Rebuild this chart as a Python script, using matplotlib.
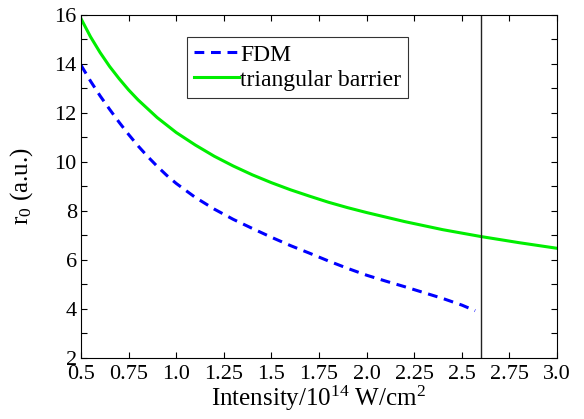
import matplotlib
matplotlib.use("Agg")
import matplotlib.pyplot as plt
from matplotlib.ticker import MultipleLocator

# values
intensity_tri = [0.5, 0.55, 0.6, 0.65, 0.7, 0.75, 0.8, 0.9, 1.0, 1.1, 1.2, 1.3, 1.4, 1.5,
                 1.6, 1.7, 1.8, 1.9, 2.0, 2.2, 2.4, 2.6, 2.8, 3.0]
r0_tri = [15.85, 15.11, 14.47, 13.9, 13.4, 12.94, 12.53, 11.81, 11.2, 10.69, 10.23, 9.83,
          9.47, 9.15, 8.86, 8.6, 8.35, 8.13, 7.93, 7.56, 7.23, 6.95, 6.7, 6.47]

intensity_fdm = [0.5, 0.55, 0.6, 0.65, 0.7, 0.75, 0.8, 0.85, 0.9, 0.95, 1.0, 1.1, 1.2, 1.3,
                 1.4, 1.5, 1.6, 1.7, 1.8, 1.9, 2.0, 2.1, 2.2, 2.3, 2.4, 2.5, 2.57]
r0_fdm = [13.95, 13.3, 12.7, 12.15, 11.62, 11.12, 10.65, 10.22, 9.82, 9.45, 9.12, 8.55,
          8.07, 7.65, 7.28, 6.92, 6.58, 6.27, 5.95, 5.65, 5.37, 5.13, 4.9, 4.66, 4.42,
          4.15, 3.92]

x_marker = 2.6
x_ticks = [0.5, 0.75, 1.0, 1.25, 1.5, 1.75, 2.0, 2.25, 2.5, 2.75, 3.0]
x_ticklabels = ["0.5", "0.75", "1.0", "1.25", "1.5", "1.75", "2.0", "2.25", "2.5", "2.75", "3.0"]

plt.rcParams["font.family"] = ["Liberation Serif", "DejaVu Serif"]
plt.rcParams["mathtext.fontset"] = "custom"
plt.rcParams["mathtext.rm"] = "Liberation Serif"
plt.rcParams["mathtext.it"] = "Liberation Serif:italic"

fig = plt.figure(figsize=(5.84, 4.19), dpi=100)
ax = fig.add_axes([0.1387, 0.1463, 0.8151, 0.8179])

ax.plot(intensity_fdm, r0_fdm, color="#0000ff", linestyle=(0, (3.2, 2.2)), linewidth=2.2, label="FDM")
ax.plot(intensity_tri, r0_tri, color="#00ee00", linewidth=2.2, label="triangular barrier")
ax.axvline(x_marker, color="#222222", linewidth=1.0)

ax.set_xlim(0.5, 3.0)
ax.set_ylim(2, 16)
ax.set_xticks(x_ticks)
ax.set_xticklabels(x_ticklabels)
ax.yaxis.set_major_locator(MultipleLocator(2))
ax.yaxis.set_minor_locator(MultipleLocator(1))
ax.tick_params(which="both", direction="in", top=True, right=True, labelsize=16)
ax.tick_params(which="major", length=4, width=0.8)
ax.tick_params(which="minor", length=4, width=0.8)
ax.tick_params(axis="x", pad=5)
ax.tick_params(axis="y", pad=3)

ax.set_xlabel(r"Intensity/10$^{14}$ W/cm$^{2}$", fontsize=18, labelpad=0)
ax.set_ylabel(r"r$_0$ (a.u.)", fontsize=18, labelpad=14)

leg = ax.legend(loc="upper left", bbox_to_anchor=(0.2227, 0.9358), fontsize=17,
                frameon=True, fancybox=False, edgecolor="black",
                handlelength=1.9, handletextpad=0.05, borderpad=0.3,
                labelspacing=0.15, borderaxespad=0)
leg.get_frame().set_linewidth(0.8)

fig.savefig("out.png", dpi=100)
